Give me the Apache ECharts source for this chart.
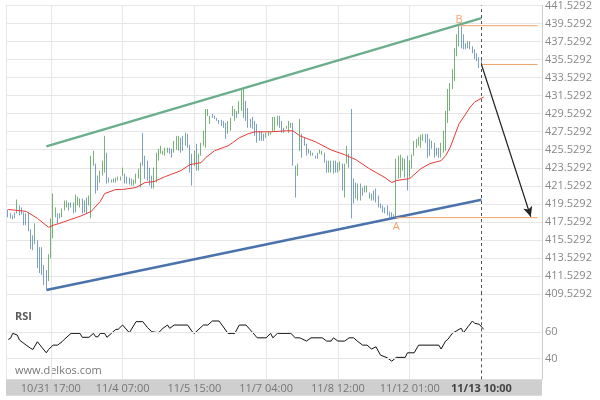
<!DOCTYPE html>
<html><head><meta charset="utf-8">
<script src="https://cdn.jsdelivr.net/npm/echarts@6/dist/echarts.min.js"></script>
<style>html,body{margin:0;padding:0;background:#fff}#c{width:600px;height:400px}</style>
</head><body><div id="c"></div>
<script>
const tickIdx = [20, 52, 84, 116, 148, 180, 212];
const tickLabels = ['10/31 17:00', '11/4 07:00', '11/5 15:00', '11/7 04:00', '11/8 12:00', '11/12 01:00', '11/13 10:00'];
const slotCount = 240;
const firstBar = 1;

const opens = [
418.91,418.47,418.25,418.58,418.47,419.35,419.13,418.58,418.47,418.47,
416.70,416.04,415.05,415.49,414.72,414.72,412.73,412.18,410.97,413.50,
415.71,418.03,418.47,418.47,418.03,418.80,419.13,419.68,419.13,419.68,
418.58,419.35,419.13,420.12,418.58,420.23,419.35,417.92,423.76,423.99,
422.66,421.89,422.66,422.99,425.20,422.44,421.89,422.33,421.89,422.11,
422.11,422.66,422.88,422.55,422.44,422.33,421.56,421.78,422.33,421.34,
427.41,424.87,424.32,423.54,422.66,421.23,421.89,424.32,425.09,424.98,
424.87,425.20,425.75,425.64,425.20,425.53,425.42,426.85,427.07,425.97,
427.30,426.08,425.09,423.76,426.19,423.21,424.87,425.97,425.75,429.28,
428.40,429.50,429.28,429.06,428.84,428.84,428.73,428.51,427.30,427.63,
429.28,428.73,429.83,429.50,429.83,429.06,430.94,430.16,428.95,429.17,
428.73,428.40,427.63,427.52,427.30,426.85,427.07,427.19,427.52,427.63,
428.18,429.28,428.73,427.96,427.85,427.41,427.96,428.51,423.76,422.66,
425.42,427.30,426.85,426.19,425.64,424.87,425.20,424.87,425.20,425.09,
424.98,425.20,424.32,422.99,424.32,422.88,424.32,424.10,423.21,423.99,
420.23,423.99,425.09,430.05,422.33,421.89,419.90,421.78,421.34,420.79,
420.79,420.79,419.90,421.01,421.23,420.45,419.57,419.35,419.13,419.35,
418.69,418.58,418.36,418.03,422.33,422.44,423.21,422.44,424.87,422.44,
423.43,424.87,425.75,425.97,425.75,426.52,427.30,427.30,426.74,426.52,
426.30,425.75,425.75,424.65,425.20,425.42,428.51,429.83,432.26,433.14,
435.90,437.00,439.21,438.33,437.34,436.78,437.56,437.00,436.67,436.23,
435.79,435.57
];
const closes = [
418.03,417.92,417.81,417.92,420.01,418.25,418.36,417.15,417.15,416.48,
414.50,414.39,417.37,412.40,411.85,411.63,410.53,410.08,413.94,417.92,
420.67,419.13,417.37,417.92,419.02,419.90,419.90,418.80,419.68,418.47,
420.56,420.34,420.12,418.47,419.90,418.47,420.45,424.87,425.42,420.67,
421.01,423.21,424.32,427.07,421.78,421.89,422.22,421.89,422.44,422.55,
422.55,423.54,421.78,421.78,421.67,421.56,422.22,422.88,423.43,424.10,
423.76,422.33,422.11,421.56,421.23,423.54,425.20,425.64,425.97,425.42,
425.75,425.75,425.09,424.65,426.52,427.07,427.07,425.20,425.42,427.41,
425.75,422.99,421.56,425.42,423.21,425.09,426.30,427.63,430.05,430.05,
429.28,429.06,428.95,428.73,428.40,428.18,427.96,426.74,428.73,429.06,
430.38,430.05,429.06,430.94,432.26,432.37,428.73,427.96,427.96,427.85,
427.07,426.30,426.52,426.52,426.52,427.41,427.52,427.52,429.17,429.17,
429.28,427.96,427.41,427.41,428.18,428.73,428.51,423.76,420.23,423.99,
428.95,424.65,425.97,424.87,425.09,425.42,424.87,424.54,424.54,425.53,
425.42,424.10,422.99,424.32,422.99,424.32,422.99,422.99,424.21,421.01,
423.99,425.97,423.54,417.92,419.57,420.12,421.78,419.90,420.45,421.56,
421.56,420.12,420.67,419.90,419.68,419.13,419.02,418.58,418.47,418.25,
418.03,418.03,417.92,424.54,424.87,424.98,424.65,424.54,421.01,424.32,
424.98,426.52,426.74,426.96,427.19,427.30,426.30,424.65,424.87,425.64,
424.65,424.87,424.65,426.30,427.63,429.83,432.26,432.92,434.47,436.78,
438.33,439.32,436.78,436.67,436.67,437.56,436.67,436.23,435.57,435.35,
434.58,435.02
];

const maPoints = [
[1,418.91],[9,418.69],[14,417.92],[19,416.92],[21,417.15],[24,417.37],[29,417.81],[33,418.14],
[38,418.69],[42,419.79],[44,420.67],[49,421.12],[52,421.12],[58,421.34],[62,421.89],[66,422.0],
[71,422.55],[78,423.21],[82,423.88],[87,424.10],[89,424.65],[93,425.42],[99,425.97],[101,426.30],
[104,426.85],[108,427.30],[111,427.52],[118,427.52],[125,427.63],[128,427.63],[131,427.07],
[138,426.41],[145,425.5],[151,424.98],[156,424.43],[162,423.43],[169,422.44],[172,421.89],
[174,422.11],[180,422.33],[185,423.43],[189,423.99],[194,424.32],[196,424.87],[198,425.75],
[200,427.07],[202,428.40],[205,429.50],[207,430.27],[209,430.83],[213,431.38]
];

const rsiPoints = [
[1,54.6],[2,55.4],[3,59.2],[5,58],[6,54.1],[8,51.5],[9,50.2],[11,47.7],[12,46.9],[14,52.8],
[16,48.5],[18,44.3],[19,46.9],[21,50.2],[23,50.2],[25,52.8],[26,54.6],[29,59.2],[33,59.2],
[34,56.2],[37,56.2],[39,59.2],[40,56.6],[41,56.6],[42,59.2],[44,59.2],[45,56.2],[47,59.2],
[49,62.3],[50,62.3],[52,65.6],[55,59.7],[58,68.2],[61,68.2],[63,63.8],[65,60.5],[68,59.7],
[70,63.1],[72,65.6],[73,63.1],[75,65.6],[81,65.6],[83,60.5],[84,59.2],[88,65.6],[90,65.6],
[92,68.7],[95,68.7],[99,59.2],[102,59.2],[104,65.6],[107,65.6],[109,61.8],[112,55.8],
[116,55.8],[118,59.2],[119,55.8],[121,59.2],[127,59.2],[129,55.8],[131,55.8],[134,53.3],
[136,55.8],[141,55.8],[143,53.3],[145,53.3],[146,55.8],[148,53.3],[151,53.3],[153,55.8],
[155,55.8],[157,52.8],[159,50.2],[161,50.2],[163,47.2],[165,48.9],[167,42.5],[170,40.5],
[172,37.9],[174,40.8],[178,40.8],[179,44.3],[182,44.3],[184,50.2],[193,50.2],[194,47.2],
[196,53.3],[197,54.6],[199,59.2],[202,62.3],[203,63.1],[204,59.7],[206,64.3],[208,68.7],
[209,66.9],[211,66.2],[213,62.3]
];

const upperChannel = [[18, 425.90], [212, 440.13]];
const lowerChannel = [[18, 409.98], [212, 419.99]];
const levelB = 439.29, levelNow = 434.99, levelA = 418.0;
const levelBStart = 202, levelNowStart = 212, levelAStart = 174, levelEnd = 237;
const arrowTo = [234, 418.1];
const priceMin = 409.5292, priceMax = 441.5292, priceStep = 2;
const rsiMin = 24, rsiMax = 89.4, rsiLevels = [40, 60];

const categories = Array.from({length: slotCount}, (_, i) => {
  const k = tickIdx.indexOf(i);
  return k >= 0 ? tickLabels[k] : String(i);
});
const candleData = [];
for (let i = 0; i < firstBar; i++) candleData.push('-');
opens.forEach((o, i) => {
  const c = closes[i];
  candleData.push([o, c, Math.min(o, c), Math.max(o, c)]);
});

const lastIdx = tickIdx[tickIdx.length - 1];
const gridV = (index) => index === 0 || (tickIdx.includes(index) && index !== lastIdx);
const priceLabel = (v) => (priceMin + Math.round((v - priceMin) / priceStep) * priceStep).toFixed(4);
const GRID = '#e6e6e6';
const ORANGE = '#f2a06a';
const UP = '#1f7f1f', DOWN = '#23609f';

const chart = echarts.init(document.getElementById('c'));
chart.setOption({
  animation: false,
  textStyle: {fontFamily: 'Open Sans'},
  grid: [
    {left: 6, right: 58, top: 4, height: 290},
    {left: 6, right: 58, top: 294, bottom: 20.7}
  ],
  graphic: [
    {type: 'rect', z: -100, shape: {x: 6, y: 379.3, width: 536, height: 16.5}, style: {fill: '#cfcfcf'}},
    {type: 'text', left: 15, top: 311, style: {text: 'RSI', font: 'bold 11px "Open Sans"', fill: '#5a5a5a'}},
    {type: 'text', left: 15, top: 365, style: {text: 'www.delkos.com', font: '11px "Open Sans"', fill: '#777'}}
  ],
  xAxis: [
    {type: 'category', gridIndex: 0, data: categories, boundaryGap: false,
     axisLine: {show: false}, axisTick: {show: false}, axisLabel: {show: false},
     splitLine: {show: true, interval: gridV, lineStyle: {color: GRID}}},
    {type: 'category', gridIndex: 1, data: categories, boundaryGap: false,
     axisLine: {show: false}, axisTick: {show: false},
     axisLabel: {show: true, interval: (index) => tickIdx.includes(index), color: '#777', fontSize: 11, margin: 4,
       formatter: (value, index) => index === lastIdx ? '{b|' + value + '}' : value,
       rich: {b: {fontWeight: 'bold', color: '#444', fontSize: 11}}},
     splitLine: {show: true, interval: gridV, lineStyle: {color: GRID}}}
  ],
  yAxis: [
    {type: 'value', gridIndex: 0, position: 'right', min: priceMin, max: priceMax, interval: priceStep,
     axisLine: {show: true, lineStyle: {color: '#cccccc'}}, axisTick: {show: false},
     axisLabel: {color: '#888', fontSize: 11, margin: 3, formatter: priceLabel},
     splitLine: {show: true, lineStyle: {color: GRID}}},
    {type: 'value', gridIndex: 1, position: 'right', min: rsiMin, max: rsiMax,
     axisLine: {show: true, lineStyle: {color: '#cccccc'}}, axisTick: {show: false},
     axisLabel: {color: '#888', fontSize: 11, margin: 3, customValues: rsiLevels},
     splitLine: {show: false}}
  ],
  series: [
    {type: 'candlestick', xAxisIndex: 0, yAxisIndex: 0, data: candleData, barWidth: 1.2,
     itemStyle: {color: UP, color0: DOWN, borderColor: UP, borderColor0: DOWN, borderWidth: 0.6},
     markLine: {silent: true, symbol: 'none', label: {show: false},
       lineStyle: {color: '#555', type: [3, 3], width: 1}, data: [{xAxis: tickLabels[tickLabels.length - 1]}]}},
    {type: 'line', xAxisIndex: 0, yAxisIndex: 0, data: maPoints, showSymbol: false, smooth: false,
     lineStyle: {color: '#e53935', width: 1}},
    {type: 'line', xAxisIndex: 0, yAxisIndex: 0, data: upperChannel, showSymbol: false,
     lineStyle: {color: '#6aae8b', width: 2.5}},
    {type: 'line', xAxisIndex: 0, yAxisIndex: 0, data: lowerChannel, showSymbol: false,
     lineStyle: {color: '#4a72ab', width: 2.5}},
    {type: 'line', xAxisIndex: 0, yAxisIndex: 0, data: [[levelBStart, levelB], [levelEnd, levelB]], showSymbol: false,
     lineStyle: {color: ORANGE, width: 1}},
    {type: 'line', xAxisIndex: 0, yAxisIndex: 0, data: [[levelAStart, levelA], [levelEnd, levelA]], showSymbol: false,
     lineStyle: {color: ORANGE, width: 1}},
    {type: 'line', xAxisIndex: 0, yAxisIndex: 0, data: [[levelNowStart, levelNow], [levelEnd, levelNow]], showSymbol: false,
     lineStyle: {color: ORANGE, width: 1},
     markLine: {silent: true, symbol: ['none', 'arrow'], symbolSize: [7, 10], label: {show: false},
       lineStyle: {color: '#222', width: 1.2, type: 'solid'},
       data: [[{coord: [levelNowStart, levelNow]}, {coord: arrowTo}]]}},
    {type: 'scatter', xAxisIndex: 0, yAxisIndex: 0, symbolSize: 1, itemStyle: {color: 'rgba(0,0,0,0)'},
     label: {show: true, color: '#f08a4b', fontSize: 11},
     data: [
       {value: [levelAStart, levelA], label: {formatter: 'A', position: 'bottom', distance: 3}},
       {value: [levelBStart, levelB], label: {formatter: 'B', position: 'top', distance: 0}}
     ]},
    {type: 'line', xAxisIndex: 1, yAxisIndex: 1, data: [], z: 1,
     markLine: {silent: true, symbol: 'none', label: {show: false},
       lineStyle: {color: GRID, type: 'solid', width: 1}, data: rsiLevels.map(v => ({yAxis: v}))}},
    {type: 'line', xAxisIndex: 1, yAxisIndex: 1, data: rsiPoints, showSymbol: false,
     lineStyle: {color: '#111', width: 1},
     markLine: {silent: true, symbol: 'none', label: {show: false},
       lineStyle: {color: '#555', type: [3, 3], width: 1}, data: [{xAxis: tickLabels[tickLabels.length - 1]}]}}
  ]
});
</script></body></html>
